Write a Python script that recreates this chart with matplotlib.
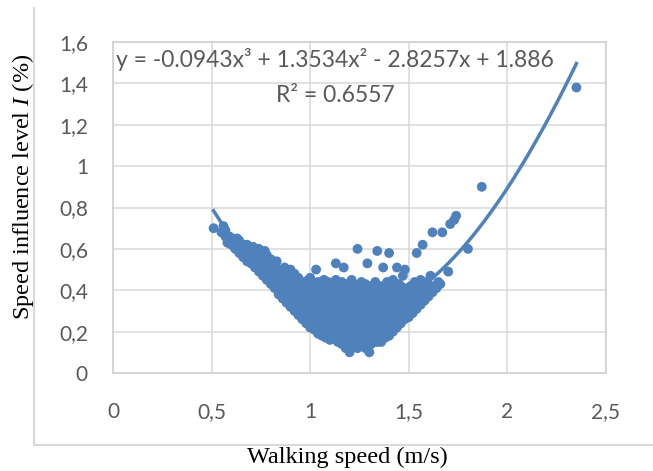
import numpy as np
import matplotlib
matplotlib.use("Agg")
import matplotlib.pyplot as plt
from matplotlib.lines import Line2D

plt.rcParams['mathtext.fontset'] = 'custom'
plt.rcParams['mathtext.rm'] = 'Liberation Serif'
plt.rcParams['mathtext.it'] = 'Liberation Serif:italic'

# walking speed (m/s) and speed influence level I (%)
speed = [
    0.51,
    0.55, 0.56,
    0.57, 0.57,
    0.58, 0.59,
    0.60, 0.61,
    0.62, 0.62, 0.63,
    0.64, 0.65, 0.64,
    0.66, 0.67, 0.66,
    0.68, 0.68, 0.69, 0.68,
    0.70, 0.71, 0.70, 0.71,
    0.72, 0.72, 0.73, 0.73,
    0.74, 0.75, 0.74, 0.75, 0.74,
    0.76, 0.76, 0.77, 0.76, 0.77,
    0.78, 0.79, 0.78, 0.79, 0.78,
    0.80, 0.81, 0.80, 0.81, 0.80,
    0.82, 0.83, 0.82, 0.83, 0.82,
    0.84, 0.85, 0.84, 0.85, 0.84, 0.83,
    0.86, 0.87, 0.86, 0.87, 0.86, 0.87,
    0.88, 0.89, 0.88, 0.89, 0.88, 0.89,
    0.90, 0.91, 0.90, 0.91, 0.90, 0.91, 0.90,
    0.92, 0.93, 0.92, 0.93, 0.92, 0.93, 0.92,
    0.94, 0.95, 0.94, 0.95, 0.94, 0.95, 0.94,
    0.96, 0.97, 0.96, 0.97, 0.96, 0.97, 0.96,
    0.98, 0.99, 0.98, 0.99, 0.98, 0.99, 0.98, 0.99,
    1.00, 1.01, 1.00, 1.01, 1.00, 1.01, 1.00, 1.01, 1.00,
    1.02, 1.03, 1.02, 1.03, 1.02, 1.03, 1.02, 1.03, 1.03,
    1.04, 1.05, 1.04, 1.05, 1.04, 1.05, 1.04, 1.05, 1.04,
    1.06, 1.07, 1.06, 1.07, 1.06, 1.07, 1.06, 1.07, 1.06, 1.07,
    1.08, 1.09, 1.08, 1.09, 1.08, 1.09, 1.08, 1.09, 1.08, 1.09,
    1.10, 1.11, 1.10, 1.11, 1.10, 1.11, 1.10, 1.11, 1.10, 1.11,
    1.12, 1.13, 1.12, 1.13, 1.12, 1.13, 1.12, 1.13, 1.12, 1.13, 1.13,
    1.14, 1.15, 1.14, 1.15, 1.14, 1.15, 1.14, 1.15, 1.14, 1.15,
    1.16, 1.17, 1.16, 1.17, 1.16, 1.17, 1.16, 1.17, 1.16, 1.17, 1.16, 1.17,
    1.18, 1.19, 1.18, 1.19, 1.18, 1.19, 1.18, 1.19, 1.18, 1.19, 1.18,
    1.20, 1.21, 1.20, 1.21, 1.20, 1.21, 1.20, 1.21, 1.20, 1.21, 1.20, 1.21,
    1.22, 1.23, 1.22, 1.23, 1.22, 1.23, 1.22, 1.23, 1.22, 1.23, 1.22,
    1.24, 1.25, 1.24, 1.25, 1.24, 1.25, 1.24, 1.25, 1.24, 1.25, 1.24, 1.24,
    1.26, 1.27, 1.26, 1.27, 1.26, 1.27, 1.26, 1.27, 1.26, 1.27, 1.26,
    1.28, 1.29, 1.28, 1.29, 1.28, 1.29, 1.28, 1.29, 1.28, 1.29, 1.28,
    1.30, 1.31, 1.30, 1.31, 1.30, 1.31, 1.30, 1.31, 1.30, 1.31, 1.30, 1.29,
    1.32, 1.33, 1.32, 1.33, 1.32, 1.33, 1.32, 1.33, 1.32, 1.33,
    1.34, 1.35, 1.34, 1.35, 1.34, 1.35, 1.34, 1.35, 1.34, 1.35, 1.34,
    1.36, 1.37, 1.36, 1.37, 1.36, 1.37, 1.36, 1.37, 1.36, 1.37, 1.37,
    1.38, 1.39, 1.38, 1.39, 1.38, 1.39, 1.38, 1.39, 1.38, 1.39,
    1.40, 1.41, 1.40, 1.41, 1.40, 1.41, 1.40, 1.41, 1.40, 1.40,
    1.42, 1.43, 1.42, 1.43, 1.42, 1.43, 1.42, 1.43, 1.42,
    1.44, 1.45, 1.44, 1.45, 1.44, 1.45, 1.44, 1.45, 1.44,
    1.46, 1.47, 1.46, 1.47, 1.46, 1.47, 1.46, 1.47,
    1.48, 1.49, 1.48, 1.49, 1.48, 1.49, 1.48,
    1.50, 1.51, 1.50, 1.51, 1.50, 1.51,
    1.52, 1.53, 1.52, 1.53, 1.52, 1.53,
    1.54, 1.55, 1.54, 1.55, 1.54, 1.54,
    1.56, 1.57, 1.56, 1.57, 1.56,
    1.57,
    1.58, 1.59, 1.58, 1.59,
    1.60, 1.61, 1.60, 1.61,
    1.62, 1.63, 1.62,
    1.64, 1.65,
    1.66, 1.67,
    1.70, 1.71,
    1.73, 1.74, 1.80, 1.87, 2.35,
]

influence = [
    0.70,
    0.68, 0.71,
    0.66, 0.69,
    0.63, 0.66,
    0.62, 0.65,
    0.60, 0.63, 0.65,
    0.58, 0.61, 0.64,
    0.56, 0.59, 0.62,
    0.54, 0.57, 0.60, 0.62,
    0.53, 0.56, 0.59, 0.61,
    0.51, 0.54, 0.57, 0.60,
    0.49, 0.52, 0.55, 0.58, 0.60,
    0.47, 0.50, 0.53, 0.56, 0.59,
    0.45, 0.48, 0.51, 0.54, 0.57,
    0.43, 0.46, 0.49, 0.52, 0.55,
    0.41, 0.44, 0.47, 0.50, 0.53,
    0.38, 0.41, 0.44, 0.47, 0.50, 0.54,
    0.36, 0.39, 0.42, 0.45, 0.48, 0.51,
    0.34, 0.37, 0.40, 0.43, 0.46, 0.49,
    0.32, 0.35, 0.38, 0.41, 0.44, 0.47, 0.50,
    0.30, 0.33, 0.36, 0.39, 0.42, 0.45, 0.48,
    0.28, 0.31, 0.34, 0.37, 0.40, 0.43, 0.46,
    0.26, 0.29, 0.32, 0.35, 0.38, 0.41, 0.44,
    0.24, 0.27, 0.30, 0.33, 0.36, 0.39, 0.42, 0.45,
    0.22, 0.25, 0.28, 0.31, 0.34, 0.37, 0.40, 0.43, 0.46,
    0.21, 0.24, 0.27, 0.30, 0.33, 0.36, 0.39, 0.42, 0.50,
    0.19, 0.22, 0.25, 0.28, 0.31, 0.34, 0.37, 0.40, 0.44,
    0.18, 0.21, 0.24, 0.27, 0.30, 0.33, 0.36, 0.39, 0.42, 0.45,
    0.17, 0.20, 0.23, 0.26, 0.29, 0.32, 0.35, 0.38, 0.41, 0.44,
    0.16, 0.19, 0.22, 0.25, 0.28, 0.31, 0.34, 0.37, 0.40, 0.43,
    0.18, 0.21, 0.24, 0.27, 0.30, 0.33, 0.36, 0.39, 0.42, 0.45, 0.53,
    0.15, 0.19, 0.22, 0.25, 0.28, 0.31, 0.34, 0.37, 0.40, 0.43,
    0.14, 0.17, 0.20, 0.23, 0.26, 0.29, 0.32, 0.35, 0.38, 0.41, 0.44, 0.51,
    0.12, 0.16, 0.19, 0.22, 0.25, 0.28, 0.31, 0.34, 0.37, 0.40, 0.43,
    0.10, 0.14, 0.17, 0.20, 0.23, 0.26, 0.29, 0.32, 0.35, 0.38, 0.42, 0.45,
    0.13, 0.16, 0.19, 0.22, 0.25, 0.28, 0.31, 0.34, 0.37, 0.40, 0.43,
    0.12, 0.15, 0.18, 0.21, 0.24, 0.27, 0.30, 0.33, 0.36, 0.39, 0.42, 0.60,
    0.14, 0.17, 0.20, 0.23, 0.26, 0.29, 0.32, 0.35, 0.38, 0.41, 0.44,
    0.12, 0.16, 0.19, 0.22, 0.25, 0.28, 0.31, 0.34, 0.37, 0.40, 0.43,
    0.10, 0.14, 0.18, 0.21, 0.24, 0.27, 0.30, 0.33, 0.36, 0.39, 0.42, 0.53,
    0.16, 0.19, 0.22, 0.25, 0.28, 0.31, 0.34, 0.37, 0.40, 0.44,
    0.15, 0.18, 0.21, 0.24, 0.27, 0.30, 0.33, 0.36, 0.39, 0.42, 0.59,
    0.15, 0.18, 0.21, 0.24, 0.27, 0.30, 0.33, 0.36, 0.39, 0.42, 0.51,
    0.17, 0.20, 0.23, 0.26, 0.29, 0.32, 0.35, 0.38, 0.41, 0.44,
    0.18, 0.21, 0.24, 0.27, 0.30, 0.33, 0.36, 0.39, 0.42, 0.58,
    0.20, 0.23, 0.26, 0.29, 0.32, 0.35, 0.38, 0.41, 0.45,
    0.22, 0.25, 0.28, 0.31, 0.34, 0.37, 0.40, 0.43, 0.51,
    0.24, 0.27, 0.30, 0.33, 0.36, 0.39, 0.42, 0.47,
    0.26, 0.29, 0.32, 0.35, 0.38, 0.41, 0.50,
    0.27, 0.30, 0.33, 0.36, 0.39, 0.42,
    0.29, 0.32, 0.35, 0.38, 0.41, 0.44,
    0.31, 0.34, 0.37, 0.40, 0.43, 0.58,
    0.33, 0.36, 0.39, 0.42, 0.45,
    0.62,
    0.35, 0.38, 0.41, 0.44,
    0.37, 0.40, 0.43, 0.47,
    0.39, 0.42, 0.68,
    0.41, 0.44,
    0.43, 0.68,
    0.49, 0.72,
    0.74, 0.76, 0.60, 0.90, 1.38,
]

# polynomial trendline shown on the chart
trend_coef = [-0.0943, 1.3534, -2.8257, 1.886]
trend_eq = "y = -0.0943x³ + 1.3534x² - 2.8257x + 1.886"
trend_r2 = "R² = 0.6557"

x_ticks = [0, 0.5, 1, 1.5, 2, 2.5]
x_ticklabels = ["0", "0,5", "1", "1,5", "2", "2,5"]
y_ticks = [0, 0.2, 0.4, 0.6, 0.8, 1.0, 1.2, 1.4, 1.6]
y_ticklabels = ["0", "0,2", "0,4", "0,6", "0,8", "1", "1,2", "1,4", "1,6"]

blue = '#4f81bd'
grid_col = '#d9d9d9'
text_col = '#595959'

fig = plt.figure(figsize=(6.53, 4.71), dpi=100)
ax = fig.add_axes([113/653, 98/471, 493/653, 331/471])

ax.scatter(speed, influence, s=50, color=blue, edgecolors='none', zorder=3)

xs = np.linspace(min(speed), max(speed), 200)
ax.plot(xs, np.polyval(trend_coef, xs), color=blue, lw=2.5, zorder=4)

ax.set_xlim(0, 2.5)
ax.set_ylim(0, 1.6)
ax.set_xticks(x_ticks)
ax.set_xticklabels(x_ticklabels)
ax.set_yticks(y_ticks)
ax.set_yticklabels(y_ticklabels)
ax.tick_params(length=0, labelsize=15, labelcolor=text_col)
ax.tick_params(axis='y', pad=18)
ax.tick_params(axis='x', pad=21)
for lab in ax.get_xticklabels() + ax.get_yticklabels():
    lab.set_fontfamily('Lato')

ax.grid(True, color=grid_col, lw=1.1, zorder=0)
ax.set_axisbelow(True)
for sp in ax.spines.values():
    sp.set_color('#d0d0d0')
    sp.set_linewidth(1.2)

# trendline label, two centred lines
fig.text(335/653, (471 - 67)/471, trend_eq, ha='center', va='baseline',
         fontsize=16.5, family='Lato', color=text_col)
fig.text(335/653, (471 - 102)/471, trend_r2, ha='center', va='baseline',
         fontsize=16.5, family='Lato', color=text_col)

# outer chart frame (left and bottom edges visible)
fig.add_artist(Line2D([34/653, 34/653], [26/471, 463/471], color=grid_col, lw=1.5))
fig.add_artist(Line2D([34/653, 1.0], [26/471, 26/471], color=grid_col, lw=1.5))

fig.text(347/653, 8/471, "Walking speed (m/s)", ha='center', va='baseline',
         fontsize=17.5, family='Liberation Serif', color='black')
fig.text(29.5/653, 151/471, r"Speed influence level $\mathit{I}$ (%)", rotation=90,
         rotation_mode='anchor', ha='left', va='baseline',
         fontsize=17.5, family='Liberation Serif', color='black')

fig.savefig('out.png', dpi=100)
